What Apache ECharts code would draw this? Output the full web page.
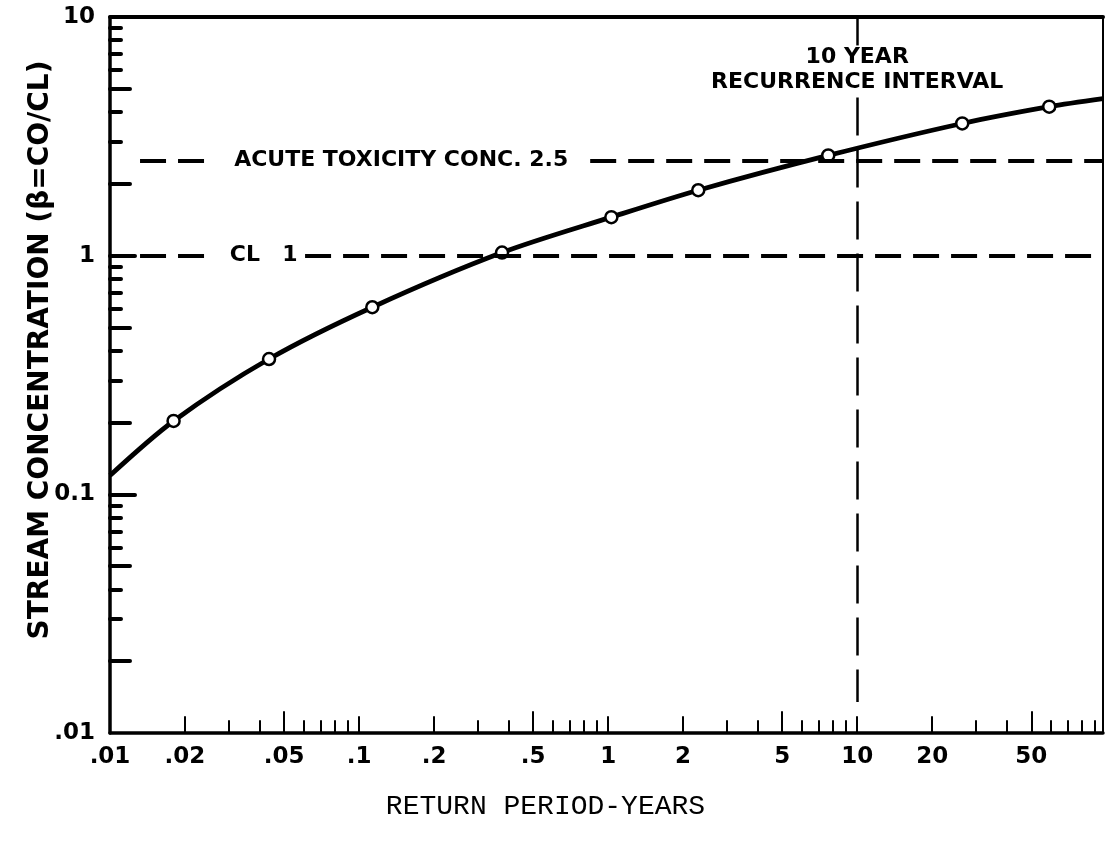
<!DOCTYPE html>
<html><head><meta charset="utf-8">
<script src="https://cdn.jsdelivr.net/npm/echarts@6/dist/echarts.min.js"></script>
<style>html,body{margin:0;padding:0;background:#fff}#c{width:1107px;height:842px}</style>
</head><body><div id="c"></div><script>
// Return period (years) and stream concentration (beta = CO/CL) of the plotted points
const periods        = [0.018, 0.0435, 0.113, 0.375, 1.03, 2.30, 7.65, 26.4, 59.0];
const concentrations = [0.203, 0.369, 0.608, 1.03, 1.45, 1.88, 2.63, 3.58, 4.21];
// where the drawn curve enters and leaves the frame
const curveStart = [0.01, 0.12];
const curveEnd   = [97, 4.55];

// axes
const xLabelValues = [0.01, 0.02, 0.05, 0.1, 0.2, 0.5, 1, 2, 5, 10, 20, 50];
const xLabelTexts  = ['.01', '.02', '.05', '.1', '.2', '.5', '1', '2', '5', '10', '20', '50'];
const xTicksMid    = [0.02, 0.1, 0.2, 1, 2, 10, 20];
const xTicksFive   = [0.05, 0.5, 5, 50];
const xTicksSmall  = [0.03, 0.04, 0.06, 0.07, 0.08, 0.09, 0.3, 0.4, 0.6, 0.7, 0.8, 0.9,
                      3, 4, 6, 7, 8, 9, 30, 40, 60, 70, 80, 90];
const yLabelValues = [0.01, 0.1, 1, 10];
const yLabelTexts  = ['.01', '0.1', '1', '10'];
const yTicksMajor  = [0.1, 1];
const yTicksTwoFive = [0.02, 0.05, 0.2, 0.5, 2, 5];
const yTicksSmall  = [0.03, 0.04, 0.06, 0.07, 0.08, 0.09, 0.3, 0.4, 0.6, 0.7, 0.8, 0.9,
                      3, 4, 6, 7, 8, 9];

// reference levels
const acuteLevel = 2.5;
const clLevel = 1;
const recurrenceYears = 10;

const BOLD = '"DejaVu Sans", sans-serif';
const chart = echarts.init(document.getElementById('c'), null, {renderer: 'canvas'});

function logX(extra) {
  return Object.assign({
    type: 'log', logBase: 10, min: 0.01, max: 97, gridIndex: 0, position: 'bottom',
    axisLine: {show: false, onZero: false},
    axisTick: {show: false},
    axisLabel: {show: false},
    splitLine: {show: false}, minorTick: {show: false}, minorSplitLine: {show: false}
  }, extra);
}
function logY(extra) {
  return Object.assign({
    type: 'log', logBase: 10, min: 0.01, max: 10, gridIndex: 0, position: 'left',
    axisLine: {show: false, onZero: false},
    axisTick: {show: false},
    axisLabel: {show: false},
    splitLine: {show: false}, minorTick: {show: false}, minorSplitLine: {show: false}
  }, extra);
}
function tick(values, len, width) {
  return {show: true, inside: true, customValues: values, length: len,
          lineStyle: {color: '#000', width: width, cap: 'round'}};
}

const curveData = [curveStart].concat(periods.map((p, i) => [p, concentrations[i]])).concat([curveEnd]);
const pointData = periods.map((p, i) => [p, concentrations[i]]);

const annoLabel = {show: true, position: 'inside', color: '#000',
                   fontFamily: BOLD, fontWeight: 'bold', fontSize: 22};

chart.setOption({
  animation: false,
  backgroundColor: '#fff',
  grid: {left: 110, right: 4, top: 17, bottom: 109, containLabel: false},
  xAxis: [
    logX({
      axisLine: {show: true, onZero: false, lineStyle: {color: '#000', width: 3.5}},
      axisTick: tick(xTicksSmall, 12, 2),
      axisLabel: {show: true, customValues: xLabelValues, margin: 13,
        color: '#000', fontFamily: BOLD, fontWeight: 'bold', fontSize: 23,
        formatter: v => { const i = xLabelValues.findIndex(t => Math.abs(t - v) / t < 1e-6); return i >= 0 ? xLabelTexts[i] : ''; }},
      name: 'RETURN PERIOD-YEARS', nameLocation: 'middle', nameGap: 60, nameMoveOverlap: false,
      nameTextStyle: {color: '#000', fontFamily: '"Liberation Mono", "Courier New", monospace', fontSize: 28,
                      padding: [0, 122, 0, 0]}
    }),
    logX({axisTick: tick(xTicksMid, 16, 2)}),
    logX({axisTick: tick(xTicksFive, 21, 2)}),
    logX({position: 'top', axisLine: {show: true, onZero: false, lineStyle: {color: '#000', width: 4}}})
  ],
  yAxis: [
    logY({
      axisLine: {show: true, onZero: false, lineStyle: {color: '#000', width: 3.5}},
      axisTick: tick(yTicksMajor, 25, 4),
      axisLabel: {show: true, customValues: yLabelValues, margin: 15,
        color: '#000', fontFamily: BOLD, fontWeight: 'bold', fontSize: 23,
        formatter: v => { const i = yLabelValues.findIndex(t => Math.abs(t - v) / t < 1e-6); return i >= 0 ? yLabelTexts[i] : ''; }},
      name: 'STREAM CONCENTRATION (\u03B2=CO/CL)', nameLocation: 'middle', nameGap: 55, nameRotate: 90,
      nameMoveOverlap: false,
      nameTextStyle: {color: '#000', fontFamily: BOLD, fontWeight: 'bold', fontSize: 28,
                      padding: [0, 0, 0, 50]}
    }),
    logY({axisTick: tick(yTicksTwoFive, 20, 4)}),
    logY({axisTick: tick(yTicksSmall, 11, 4)}),
    logY({position: 'right', axisLine: {show: true, onZero: false, lineStyle: {color: '#000', width: 2}}})
  ],
  series: [
    {
      name: 'curve', type: 'line', xAxisIndex: 0, yAxisIndex: 0,
      data: curveData, smooth: 0.3, showSymbol: false, symbol: 'none',
      lineStyle: {color: '#000', width: 4.8}, z: 3
    },
    {
      name: 'points', type: 'scatter', xAxisIndex: 0, yAxisIndex: 0,
      data: pointData, symbol: 'circle', symbolSize: 12,
      itemStyle: {color: '#fff', borderColor: '#000', borderWidth: 2.5, opacity: 1}, z: 4
    },
    {
      name: 'levels', type: 'line', xAxisIndex: 0, yAxisIndex: 0, data: [],
      markLine: {
        silent: true, symbol: ['none', 'none'], label: {show: false},
        lineStyle: {color: '#000', width: 4, type: [26, 12], cap: 'butt'},
        data: [
          [{coord: [0.0132, acuteLevel]}, {coord: [0.0264, acuteLevel]}],
          [{coord: [0.847, acuteLevel]}, {coord: [97, acuteLevel]}],
          [{coord: [0.0132, clLevel]}, {coord: [0.0247, clLevel]}],
          [{coord: [0.0607, clLevel]}, {coord: [97, clLevel]}]
        ]
      },
      markPoint: {
        silent: true, symbol: 'circle', symbolSize: 0, label: annoLabel,
        data: [
          {coord: [0.1476, acuteLevel], label: {formatter: 'ACUTE TOXICITY CONC. 2.5'}},
          {coord: [0.0348, clLevel], label: {formatter: 'CL'}},
          {coord: [0.0528, clLevel], label: {formatter: '1'}}
        ]
      }
    },
    {
      name: 'recurrence', type: 'line', xAxisIndex: 0, yAxisIndex: 0, data: [],
      markLine: {
        silent: true, symbol: ['none', 'none'], label: {show: false},
        lineStyle: {color: '#000', width: 2.5, type: [38, 14]},
        data: [
          [{coord: [recurrenceYears, 10]}, {coord: [recurrenceYears, 7.6]}],
          [{coord: [recurrenceYears, 4.6]}, {coord: [recurrenceYears, 0.0135]}]
        ]
      },
      markPoint: {
        silent: true, symbol: 'circle', symbolSize: 0,
        label: Object.assign({}, annoLabel, {lineHeight: 25, align: 'center'}),
        data: [
          {coord: [recurrenceYears, 6.0], label: {formatter: '10 YEAR\nRECURRENCE INTERVAL'}}
        ]
      }
    }
  ]
});
</script></body></html>
